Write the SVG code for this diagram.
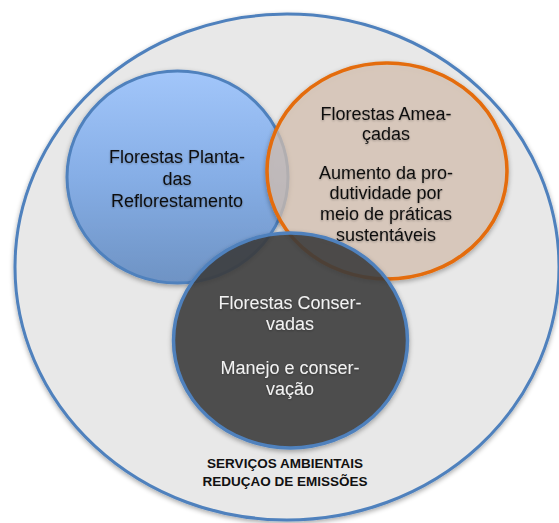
<svg xmlns="http://www.w3.org/2000/svg" width="559" height="523" viewBox="0 0 559 523">
<defs>
<linearGradient id="gBlue" x1="0" y1="0" x2="0" y2="1">
<stop offset="0" stop-color="#a2c6fa"/>
<stop offset="0.5" stop-color="#86aee6"/>
<stop offset="1" stop-color="#6e93c4"/>
</linearGradient>
<filter id="sh" x="-10%" y="-10%" width="120%" height="125%">
<feGaussianBlur in="SourceAlpha" stdDeviation="2.5"/>
<feOffset dx="0" dy="2" result="b"/>
<feComponentTransfer><feFuncA type="linear" slope="0.35"/></feComponentTransfer>
<feMerge><feMergeNode/><feMergeNode in="SourceGraphic"/></feMerge>
</filter>
<filter id="tsh" x="-10%" y="-30%" width="120%" height="160%">
<feGaussianBlur in="SourceAlpha" stdDeviation="1.2"/>
<feOffset dx="0" dy="1"/>
<feComponentTransfer><feFuncA type="linear" slope="0.3"/></feComponentTransfer>
<feMerge><feMergeNode/><feMergeNode in="SourceGraphic"/></feMerge>
</filter>
</defs>
<style>
.t{font-family:"Liberation Sans",Arial,sans-serif;font-size:18px;text-anchor:middle;fill:#111}
.w{fill:#f2f2f2}
.b{font-family:"Liberation Sans",Arial,sans-serif;font-size:13.5px;font-weight:bold;text-anchor:middle;fill:#111}
</style>
<g id="outer">
<ellipse cx="287" cy="267" rx="272" ry="253" fill="#e8e8e8" stroke="#4f81bd" stroke-width="3" filter="url(#sh)"/>
<text class="b" x="285" y="468">SERVIÇOS AMBIENTAIS</text>
<text class="b" x="285" y="486">REDUÇAO DE EMISSÕES</text>
</g>
<g id="plantadas">
<ellipse cx="177.5" cy="177" rx="110.5" ry="106" fill="url(#gBlue)" stroke="#4f81bd" stroke-width="3" filter="url(#sh)"/>
<g filter="url(#tsh)">
<text class="t" x="177" y="163">Florestas Planta-</text>
<text class="t" x="177" y="185">das</text>
<text class="t" x="177" y="206.5">Reflorestamento</text>
</g>
</g>
<g id="ameacadas">
<ellipse cx="387" cy="171" rx="120" ry="108" fill="#dcc6b4" fill-opacity="0.68" stroke="#e46c0a" stroke-width="3.5" filter="url(#sh)"/>
<g filter="url(#tsh)">
<text class="t" x="386" y="119.5">Florestas Amea-</text>
<text class="t" x="386" y="139.5">çadas</text>
<text class="t" x="386" y="178.5">Aumento da pro-</text>
<text class="t" x="386" y="199">dutividade por</text>
<text class="t" x="386" y="220">meio de práticas</text>
<text class="t" x="386" y="240.5">sustentáveis</text>
</g>
</g>
<g id="conservadas">
<ellipse cx="290.5" cy="340.5" rx="117" ry="107.5" fill="#3c3c3c" fill-opacity="0.85" stroke="#4f81bd" stroke-width="3.5" filter="url(#sh)"/>
<g filter="url(#tsh)">
<text class="t w" x="290" y="309">Florestas Conser-</text>
<text class="t w" x="290" y="330">vadas</text>
<text class="t w" x="290" y="373.5">Manejo e conser-</text>
<text class="t w" x="290" y="394.5">vação</text>
</g>
</g>
<g id="connectors"/>
</svg>
